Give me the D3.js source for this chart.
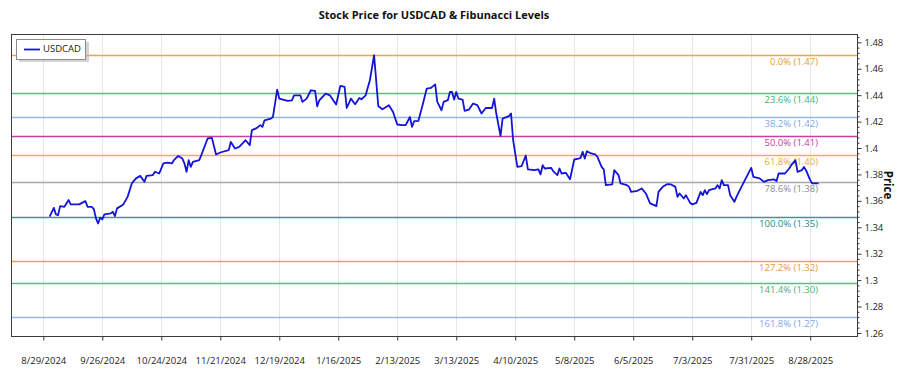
<!DOCTYPE html>
<html>
<head>
<meta charset="utf-8">
<script src="https://cdn.jsdelivr.net/npm/d3@7"></script>
<style>
  html, body { margin: 0; padding: 0; background: #ffffff; }
  svg { display: block; font-family: "Open Sans", "Noto Sans", sans-serif; }
</style>
</head>
<body>
<svg id="chart" width="900" height="375"></svg>
<script>
// ---------- data ----------
const dates = [
  "2024-09-01","2024-09-03","2024-09-04","2024-09-05","2024-09-06","2024-09-08","2024-09-10","2024-09-11",
  "2024-09-14","2024-09-15","2024-09-18","2024-09-19","2024-09-21","2024-09-22","2024-09-23","2024-09-24",
  "2024-09-25","2024-09-26","2024-09-27","2024-09-30","2024-10-01","2024-10-02","2024-10-03","2024-10-06",
  "2024-10-08","2024-10-10","2024-10-12","2024-10-14","2024-10-16","2024-10-17","2024-10-20","2024-10-21",
  "2024-10-23","2024-10-25","2024-10-27","2024-10-29","2024-10-30","2024-11-01","2024-11-03","2024-11-04",
  "2024-11-05","2024-11-06","2024-11-07","2024-11-08","2024-11-11","2024-11-12","2024-11-15","2024-11-17",
  "2024-11-19","2024-11-21","2024-11-25","2024-11-26","2024-11-28","2024-11-30","2024-12-03","2024-12-05",
  "2024-12-06","2024-12-08","2024-12-10","2024-12-11","2024-12-12","2024-12-15","2024-12-16","2024-12-18",
  "2024-12-19","2024-12-23","2024-12-25","2024-12-26","2024-12-29","2024-12-30","2025-01-01","2025-01-03",
  "2025-01-05","2025-01-06","2025-01-07","2025-01-10","2025-01-12","2025-01-15","2025-01-17","2025-01-19",
  "2025-01-20","2025-01-21","2025-01-22","2025-01-24","2025-01-26","2025-01-27","2025-01-29","2025-01-31",
  "2025-02-02","2025-02-04","2025-02-06","2025-02-09","2025-02-10","2025-02-11","2025-02-13","2025-02-15",
  "2025-02-17","2025-02-19","2025-02-20","2025-02-21","2025-02-23","2025-02-25","2025-02-27","2025-03-01",
  "2025-03-03","2025-03-04","2025-03-06","2025-03-07","2025-03-09","2025-03-10","2025-03-11","2025-03-12",
  "2025-03-13","2025-03-14","2025-03-16","2025-03-17","2025-03-19","2025-03-21","2025-03-23","2025-03-25",
  "2025-03-27","2025-03-30","2025-03-31","2025-04-01","2025-04-03","2025-04-04","2025-04-07","2025-04-08",
  "2025-04-09","2025-04-11","2025-04-13","2025-04-15","2025-04-16","2025-04-19","2025-04-21","2025-04-22",
  "2025-04-23","2025-04-24","2025-04-27","2025-04-28","2025-04-30","2025-05-01","2025-05-02","2025-05-04",
  "2025-05-06","2025-05-08","2025-05-10","2025-05-11","2025-05-12","2025-05-13","2025-05-14","2025-05-16",
  "2025-05-18","2025-05-19","2025-05-21","2025-05-22","2025-05-23","2025-05-26","2025-05-27","2025-05-29",
  "2025-05-30","2025-06-02","2025-06-03","2025-06-04","2025-06-07","2025-06-09","2025-06-11","2025-06-13",
  "2025-06-15","2025-06-16","2025-06-17","2025-06-19","2025-06-21","2025-06-23","2025-06-25","2025-06-26",
  "2025-06-27","2025-06-29","2025-06-30","2025-07-02","2025-07-03","2025-07-05","2025-07-07","2025-07-08",
  "2025-07-09","2025-07-10","2025-07-11","2025-07-14","2025-07-15","2025-07-16","2025-07-17","2025-07-18",
  "2025-07-20","2025-07-21","2025-07-23","2025-07-24","2025-07-26","2025-07-28","2025-07-30","2025-07-31",
  "2025-08-01","2025-08-04","2025-08-06","2025-08-08","2025-08-11","2025-08-12","2025-08-13","2025-08-16",
  "2025-08-18","2025-08-19","2025-08-21","2025-08-22","2025-08-24","2025-08-25","2025-08-26","2025-08-28",
  "2025-08-29","2025-09-01"
];
const prices = [
  1.3480,1.3547,1.3497,1.3492,1.3560,1.3555,1.3606,1.3573,
  1.3573,1.3573,1.3598,1.3555,1.3555,1.3537,1.3467,1.3429,
  1.3472,1.3460,1.3497,1.3505,1.3517,1.3485,1.3543,1.3573,
  1.3630,1.3732,1.3770,1.3789,1.3744,1.3789,1.3795,1.3820,
  1.3807,1.3883,1.3890,1.3883,1.3908,1.3940,1.3920,1.3883,
  1.3820,1.3908,1.3857,1.3895,1.3908,1.3946,1.4072,1.4077,
  1.3951,1.3966,1.3984,1.4046,1.3996,1.4009,1.4059,1.4021,
  1.4135,1.4148,1.4173,1.4160,1.4210,1.4223,1.4235,1.4442,
  1.4374,1.4356,1.4361,1.4399,1.4399,1.4349,1.4374,1.4437,
  1.4432,1.4316,1.4361,1.4412,1.4399,1.4329,1.4470,1.4462,
  1.4303,1.4337,1.4374,1.4331,1.4379,1.4369,1.4399,1.4513,
  1.4702,1.4316,1.4293,1.4324,1.4299,1.4273,1.4178,1.4173,
  1.4173,1.4235,1.4160,1.4203,1.4205,1.4324,1.4450,1.4455,
  1.4482,1.4349,1.4286,1.4349,1.4362,1.4424,1.4424,1.4367,
  1.4424,1.4374,1.4367,1.4281,1.4291,1.4337,1.4324,1.4261,
  1.4303,1.4303,1.4374,1.4261,1.4092,1.4223,1.4241,1.4261,
  1.4059,1.3857,1.3863,1.3943,1.3838,1.3832,1.3838,1.3800,
  1.3870,1.3845,1.3850,1.3825,1.3795,1.3845,1.3807,1.3812,
  1.3764,1.3913,1.3920,1.3925,1.3971,1.3920,1.3976,1.3959,
  1.3951,1.3933,1.3857,1.3838,1.3719,1.3724,1.3832,1.3795,
  1.3732,1.3719,1.3706,1.3668,1.3676,1.3694,1.3656,1.3581,
  1.3568,1.3560,1.3668,1.3706,1.3726,1.3724,1.3706,1.3630,
  1.3656,1.3618,1.3643,1.3585,1.3573,1.3585,1.3668,1.3643,
  1.3681,1.3651,1.3681,1.3694,1.3719,1.3694,1.3757,1.3719,
  1.3719,1.3643,1.3593,1.3630,1.3694,1.3757,1.3820,1.3850,
  1.3782,1.3770,1.3744,1.3757,1.3762,1.3749,1.3807,1.3807,
  1.3845,1.3870,1.3908,1.3820,1.3832,1.3857,1.3832,1.3757,
  1.3732,1.3732
];
const fibLevels = [1.4707, 1.4417, 1.4236, 1.4093, 1.3948, 1.3744, 1.3479, 1.3146, 1.2975, 1.2723];
const fibLabels = ["0.0% (1.47)","23.6% (1.44)","38.2% (1.42)","50.0% (1.41)","61.8% (1.40)",
                   "78.6% (1.38)","100.0% (1.35)","127.2% (1.32)","141.4% (1.30)","161.8% (1.27)"];
const fibColors = ["#f2a43a","#62ba82","#8fb6ee","#c8409e","#f2b04a","#a9a9a9","#3a9898","#f2a43a","#62ba82","#8fb6ee"];
const fibTextColors = ["#e89a30","#4fae74","#7fa6e2","#c0409a","#e8a840","#8c8c8c","#2e8a8a","#e89a30","#4fae74","#7fa6e2"];
const xTickLabels = ["8/29/2024","9/26/2024","10/24/2024","11/21/2024","12/19/2024","1/16/2025","2/13/2025",
                     "3/13/2025","4/10/2025","5/8/2025","6/5/2025","7/3/2025","7/31/2025","8/28/2025"];
const yTicks = [1.26,1.28,1.30,1.32,1.34,1.36,1.38,1.40,1.42,1.44,1.46,1.48];
const seriesName = "USDCAD";
const titleText = "Stock Price for USDCAD & Fibunacci Levels";
const yAxisTitle = "Price";

// ---------- layout ----------
const svg = d3.select("#chart");
const plot = { left: 11, right: 857, top: 34, bottom: 336 };
const parse = d3.utcParse("%Y-%m-%d");
const parseTick = d3.utcParse("%m/%d/%Y");
const data = dates.map((d, i) => ({ date: parse(d), value: prices[i] }));

const x = d3.scaleUtc()
  .domain([new Date(Date.UTC(2024, 7, 13, 16)), new Date(Date.UTC(2025, 8, 19, 5))])
  .range([plot.left, plot.right]);
const y = d3.scaleLinear()
  .domain([1.2577, 1.4863])
  .range([plot.bottom, plot.top]);

const xTickDates = xTickLabels.map(s => parseTick(s));

// vertical grid
svg.append("g").selectAll("line").data(xTickDates).join("line")
  .attr("x1", d => Math.round(x(d)) + 0.5).attr("x2", d => Math.round(x(d)) + 0.5)
  .attr("y1", plot.top).attr("y2", plot.bottom)
  .attr("stroke", "#e6e6e6").attr("stroke-width", 1);

// fib lines
svg.append("g").selectAll("line").data(fibLevels).join("line")
  .attr("x1", plot.left).attr("x2", plot.right)
  .attr("y1", d => Math.round(y(d)) + 0.5).attr("y2", d => Math.round(y(d)) + 0.5)
  .attr("stroke", (d, i) => fibColors[i]).attr("stroke-width", 1.3);

// fib labels
svg.append("g").selectAll("text").data(fibLevels).join("text")
  .attr("x", 818).attr("y", d => y(d) + 10)
  .attr("text-anchor", "end")
  .attr("font-size", "9.5px")
  .attr("fill", (d, i) => fibTextColors[i])
  .text((d, i) => fibLabels[i]);

// price line
const line = d3.line().x(d => x(d.date)).y(d => y(d.value));
svg.append("path").datum(data)
  .attr("d", line)
  .attr("fill", "none")
  .attr("stroke", "#1414d6")
  .attr("stroke-width", 1.8)
  .attr("stroke-linejoin", "round");

// plot frame
svg.append("rect")
  .attr("x", plot.left + 0.5).attr("y", plot.top + 0.5)
  .attr("width", plot.right - plot.left).attr("height", plot.bottom - plot.top)
  .attr("fill", "none").attr("stroke", "#3c3c3c").attr("stroke-width", 1);

// x axis
const xAxis = d3.axisBottom(x)
  .tickValues(xTickDates)
  .tickSize(4)
  .tickPadding(17)
  .tickFormat((d, i) => xTickLabels[i]);
const gx = svg.append("g").attr("transform", `translate(0,${plot.bottom + 0.5})`).call(xAxis);
gx.select(".domain").remove();
gx.selectAll("line").attr("stroke", "#333");
gx.selectAll("text").attr("font-size", "9.5px").attr("fill", "#222")
  .attr("font-family", "'Open Sans', 'Noto Sans', sans-serif");

// y axis (right) with minor ticks
const minorTicks = d3.range(1.26, 1.4861, 0.004).filter(v => yTicks.every(t => Math.abs(t - v) > 1e-6));
const yMinor = d3.axisRight(y).tickValues(minorTicks).tickSize(2).tickFormat("");
const gym = svg.append("g").attr("transform", `translate(${plot.right + 0.5},0)`).call(yMinor);
gym.select(".domain").remove();
gym.selectAll("line").attr("stroke", "#333");

const yAxis = d3.axisRight(y)
  .tickValues(yTicks)
  .tickSize(4)
  .tickPadding(3)
  .tickFormat(d => d3.format("~g")(+d.toFixed(2)));
const gy = svg.append("g").attr("transform", `translate(${plot.right + 0.5},0)`).call(yAxis);
gy.select(".domain").remove();
gy.selectAll("line").attr("stroke", "#333");
gy.selectAll("text").attr("font-size", "9.5px").attr("fill", "#222")
  .attr("font-family", "'Open Sans', 'Noto Sans', sans-serif");

// y axis title
svg.append("text")
  .attr("transform", `translate(887,${(plot.top + plot.bottom) / 2}) rotate(90)`)
  .attr("text-anchor", "middle")
  .attr("dominant-baseline", "middle")
  .attr("font-size", "11.5px").attr("font-weight", "bold").attr("fill", "#111")
  .text(yAxisTitle);

// title
svg.append("text")
  .attr("x", 434).attr("y", 19)
  .attr("text-anchor", "middle")
  .attr("font-size", "11px").attr("font-weight", "bold").attr("fill", "#111")
  .text(titleText);

// legend
const lg = svg.append("g");
lg.append("rect").attr("x", 19).attr("y", 42).attr("width", 70).attr("height", 20)
  .attr("fill", "#b8b8b8").attr("opacity", 0.6);
lg.append("rect").attr("x", 16.5).attr("y", 39.5).attr("width", 69).attr("height", 20)
  .attr("fill", "#fff").attr("stroke", "#8a8a8a").attr("stroke-width", 1);
lg.append("line").attr("x1", 24).attr("x2", 40).attr("y1", 49.5).attr("y2", 49.5)
  .attr("stroke", "#1414d6").attr("stroke-width", 1.8);
lg.append("text").attr("x", 43).attr("y", 49.5)
  .attr("dominant-baseline", "middle")
  .attr("font-size", "9.5px").attr("fill", "#222")
  .text(seriesName);
</script>
</body>
</html>
